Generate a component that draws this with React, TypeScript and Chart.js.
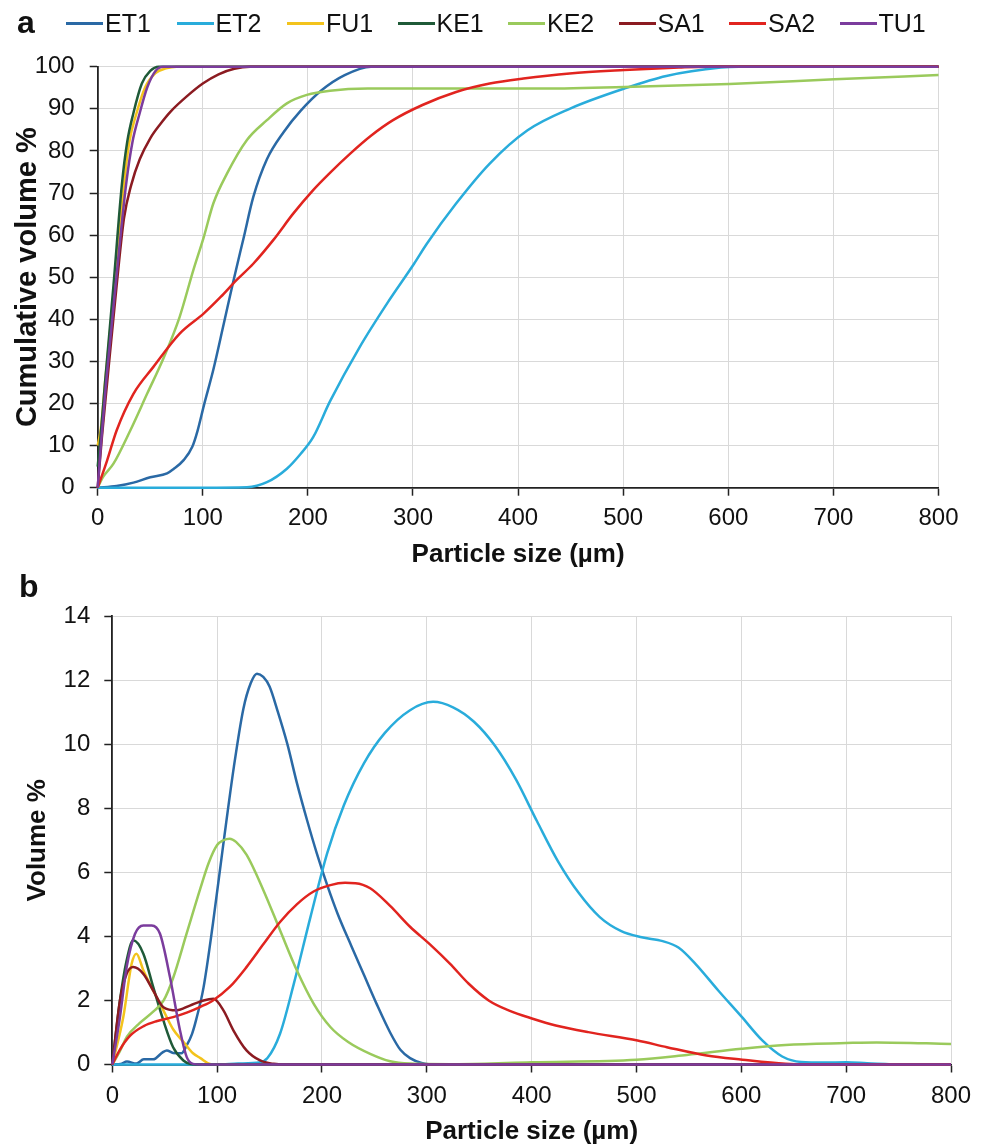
import { useEffect, useRef } from 'react';
import { Chart, registerables } from 'chart.js';

Chart.register(...registerables);

const FONT = '"Liberation Sans", Arial, Helvetica, sans-serif';

const SERIES = ['ET1', 'ET2', 'FU1', 'KE1', 'KE2', 'SA1', 'SA2', 'TU1'];
const COLORS = ['#2a69a5', '#29acdb', '#f3c31c', '#1f5a38', '#9aca5c', '#8b1b21', '#e1241f', '#7b3c9d'];

const X_TICKS = [0, 100, 200, 300, 400, 500, 600, 700, 800];
const Y_TICKS_A = [0, 10, 20, 30, 40, 50, 60, 70, 80, 90, 100];
const Y_TICKS_B = [0, 2, 4, 6, 8, 10, 12, 14];

// ---- Panel a: cumulative volume % ----
const ET1_CUM: number[][] = [[0, 0], [18, 0.4], [34, 1.2], [50, 2.5], [66, 3.4], [72, 4.4], [82, 6.6], [90, 9.7], [95, 13.5], [101, 19.5], [110, 28], [120, 39], [129, 49], [139, 59.5], [148, 69], [161, 78], [177, 84.5], [193, 89.5], [213, 94.4], [235, 98], [260, 100], [300, 100], [800, 100]];
const ET2_CUM: number[][] = [[0, 0], [100, 0], [142, 0.1], [161, 1.3], [180, 4.5], [193, 8], [205, 12], [221, 20.5], [249, 33.3], [277, 44.4], [301, 53.2], [313, 57.9], [341, 67.5], [373, 77], [409, 84.9], [449, 90], [501, 94.8], [541, 97.8], [593, 99.8], [610, 100], [800, 100]];
const FU1_CUM: number[][] = [[0, 10], [3, 14], [7, 25], [16, 48], [25, 72], [30, 82], [37, 89], [45, 95], [55, 98.5], [65, 99.6], [75, 100], [800, 100]];
const KE1_CUM: number[][] = [[0, 5], [3, 13], [7, 25], [15, 48], [23, 72], [28, 82], [34, 89], [42, 96], [50, 99], [58, 100], [800, 100]];
const KE2_CUM: number[][] = [[0, 0], [5, 2.5], [15, 5.7], [31, 13.6], [47, 22.3], [63, 31], [78, 40.6], [91, 51.7], [101, 59.6], [110, 67.5], [123, 74.6], [142, 82.6], [161, 87.3], [180, 91.3], [199, 93.3], [221, 94.3], [257, 94.8], [417, 94.8], [501, 95.2], [601, 95.9], [701, 97], [800, 98]];
const SA1_CUM: number[][] = [[0, 0], [4, 12], [9, 25], [18, 48], [25, 64], [32, 72], [40, 78], [50, 83], [60, 86.5], [70, 89.5], [85, 93], [100, 96], [115, 98.2], [130, 99.5], [145, 100], [800, 100]];
const SA2_CUM: number[][] = [[0, 0], [9, 6.5], [18, 13.6], [34, 22.3], [53, 28.7], [78, 36.6], [101, 41.4], [117, 45.3], [132, 49.3], [148, 53.2], [167, 58.8], [186, 65.1], [205, 70.7], [221, 74.8], [240, 79.3], [260, 83.6], [281, 87.3], [309, 90.9], [341, 94], [373, 96], [405, 97.2], [449, 98.4], [501, 99.2], [553, 99.8], [580, 100], [800, 100]];
const TU1_CUM: number[][] = [[0, 0], [3, 10], [8, 25], [17, 48], [27, 72], [33, 82], [40, 89], [47, 95], [55, 99], [62, 100], [800, 100]];

// ---- Panel b: volume % ----
const ET1_VOL: number[][] = [[0, 0], [8, 0.02], [14, 0.09], [23, 0.03], [30, 0.16], [39, 0.16], [48, 0.38], [52, 0.44], [58, 0.36], [66, 0.35], [71, 0.6], [76, 0.95], [80, 1.4], [87, 2.4], [96, 4.4], [106, 6.9], [116, 9.3], [125, 11.1], [132, 11.9], [138, 12.2], [144, 12.1], [150, 11.8], [158, 11.0], [167, 10.0], [176, 8.8], [186, 7.6], [195, 6.6], [205, 5.6], [215, 4.7], [228, 3.7], [240, 2.8], [252, 1.9], [265, 1.0], [275, 0.45], [284, 0.2], [295, 0.05], [310, 0], [800, 0]];
const ET2_VOL: number[][] = [[0, 0], [100, 0], [120, 0.03], [141, 0.07], [148, 0.2], [160, 0.96], [173, 2.5], [189, 4.6], [205, 6.6], [221, 8.1], [240, 9.4], [260, 10.35], [284, 11.06], [306, 11.32], [325, 11.15], [345, 10.7], [365, 9.95], [385, 8.9], [405, 7.6], [425, 6.35], [445, 5.35], [465, 4.6], [485, 4.17], [505, 3.97], [525, 3.85], [540, 3.65], [556, 3.15], [578, 2.31], [600, 1.5], [620, 0.75], [639, 0.25], [657, 0.08], [680, 0.06], [700, 0.07], [720, 0.04], [755, 0], [800, 0]];
const FU1_VOL: number[][] = [[0, 0], [10.5, 1.48], [18.5, 3.15], [23, 3.46], [29.6, 2.94], [39, 2.31], [48.7, 1.69], [58, 1.1], [68, 0.7], [77, 0.35], [84, 0.2], [93, 0.02], [100, 0], [800, 0]];
const KE1_VOL: number[][] = [[0, 0], [7.3, 2.0], [13.7, 3.25], [20, 3.875], [29.6, 3.46], [39, 2.42], [48.7, 1.375], [58, 0.54], [67.8, 0.125], [74, 0.02], [80, 0], [800, 0]];
const KE2_VOL: number[][] = [[0, 0], [7, 0.4], [14, 0.87], [26, 1.29], [39, 1.65], [49, 2.0], [58, 2.7], [71, 4.1], [84, 5.5], [92, 6.3], [100, 6.85], [106, 7.0], [112, 7.05], [118, 6.95], [128, 6.55], [144, 5.45], [160, 4.19], [176, 2.94], [192, 1.9], [208, 1.17], [225, 0.7], [246, 0.33], [265, 0.1], [284, 0.03], [330, 0.01], [400, 0.07], [500, 0.15], [548, 0.3], [600, 0.49], [642, 0.61], [700, 0.67], [729, 0.69], [800, 0.64]];
const SA1_VOL: number[][] = [[0, 0], [7.3, 2.0], [13.7, 2.83], [20, 3.04], [29.6, 2.83], [39, 2.31], [48.7, 1.79], [61.5, 1.69], [74, 1.84], [87, 2.0], [96.5, 2.05], [106, 1.69], [115.6, 1.06], [128, 0.44], [141, 0.125], [154, 0.02], [165, 0], [800, 0]];
const SA2_VOL: number[][] = [[0, 0], [7, 0.45], [17, 0.9], [30, 1.2], [42, 1.35], [58, 1.48], [71, 1.62], [84, 1.8], [96, 2.0], [112, 2.42], [128, 3.04], [144, 3.75], [160, 4.45], [176, 5.0], [192, 5.4], [208, 5.6], [222, 5.67], [232, 5.66], [246, 5.5], [265, 4.95], [284, 4.3], [303, 3.75], [322, 3.15], [340, 2.52], [359, 2.0], [378, 1.69], [401, 1.43], [423, 1.22], [454, 1.01], [501, 0.75], [529, 0.54], [567, 0.28], [601, 0.15], [642, 0.02], [661, 0], [800, 0]];
const TU1_VOL: number[][] = [[0, 0], [7.3, 1.48], [13.7, 3.04], [21.7, 4.08], [29.6, 4.34], [37.6, 4.34], [45.5, 4.08], [55, 2.73], [64.6, 1.06], [71, 0.23], [77, 0.02], [85, 0], [800, 0]];

const CUM_DATA = [ET1_CUM, ET2_CUM, FU1_CUM, KE1_CUM, KE2_CUM, SA1_CUM, SA2_CUM, TU1_CUM];
const VOL_DATA = [ET1_VOL, ET2_VOL, FU1_VOL, KE1_VOL, KE2_VOL, SA1_VOL, SA2_VOL, TU1_VOL];

type PanelGeom = {
  width: number;
  height: number;
  padTop: number;
  padRight: number;
  yAxisWidth: number;
  xAxisHeight: number;
  yTitleSize: number;
  yTitlePad: number;
  xTitlePad: number;
  yTickPad: number;
  xTickPad: number;
};

function buildConfig(data: number[][][], yTicks: number[], yTitle: string, g: PanelGeom): any {
  const datasets = data.map((pts, i) => ({
    label: SERIES[i],
    data: pts.map(([x, y]) => ({ x, y })),
    borderColor: COLORS[i],
    backgroundColor: COLORS[i],
    borderWidth: 2.5,
    pointRadius: 0,
    pointHoverRadius: 0,
    cubicInterpolationMode: 'monotone',
    fill: false,
    clip: false,
    order: SERIES.length - 1 - i,
  }));
  return {
    type: 'line',
    data: { datasets },
    options: {
      animation: false,
      responsive: false,
      devicePixelRatio: 1,
      events: [],
      layout: { padding: { top: g.padTop, right: g.padRight, left: 0, bottom: 0 } },
      plugins: { legend: { display: false }, tooltip: { enabled: false }, title: { display: false } },
      scales: {
        x: {
          type: 'linear',
          min: X_TICKS[0],
          max: X_TICKS[X_TICKS.length - 1],
          afterBuildTicks: (s: any) => {
            s.ticks = X_TICKS.map((v) => ({ value: v }));
          },
          afterFit: (s: any) => {
            s.height = g.xAxisHeight;
          },
          ticks: { font: { family: FONT, size: 24 }, color: '#111', padding: g.xTickPad, maxRotation: 0, autoSkip: false },
          grid: { color: '#d9d9d9', lineWidth: 1, tickColor: '#222', tickLength: 8, tickWidth: 1.5 },
          border: { color: '#222', width: 1.8 },
          title: {
            display: true,
            text: 'Particle size (µm)',
            font: { family: FONT, size: 26, weight: 'bold' },
            color: '#111',
            padding: { top: 0, bottom: g.xTitlePad },
          },
        },
        y: {
          type: 'linear',
          min: yTicks[0],
          max: yTicks[yTicks.length - 1],
          afterBuildTicks: (s: any) => {
            s.ticks = yTicks.map((v) => ({ value: v }));
          },
          afterFit: (s: any) => {
            s.width = g.yAxisWidth;
          },
          ticks: { font: { family: FONT, size: 24 }, color: '#111', padding: g.yTickPad, autoSkip: false },
          grid: { color: '#d9d9d9', lineWidth: 1, tickColor: '#222', tickLength: 8, tickWidth: 1.5 },
          border: { color: '#222', width: 1.8 },
          title: {
            display: true,
            text: yTitle,
            font: { family: FONT, size: g.yTitleSize, weight: 'bold' },
            color: '#111',
            padding: { top: g.yTitlePad, bottom: 0 },
          },
        },
      },
    },
  };
}

const GEOM_A: PanelGeom = {
  width: 984,
  height: 580,
  padTop: 66.7,
  padRight: 45.5,
  yAxisWidth: 97.7,
  xAxisHeight: 92.3,
  yTitleSize: 29,
  yTitlePad: 10.6,
  xTitlePad: 10,
  yTickPad: 15,
  xTickPad: 8,
};

const GEOM_B: PanelGeom = {
  width: 984,
  height: 567,
  padTop: 36,
  padRight: 33,
  yAxisWidth: 112.3,
  xAxisHeight: 82.5,
  yTitleSize: 26,
  yTitlePad: 22.4,
  xTitlePad: 0,
  yTickPad: 14,
  xTickPad: 9,
};

function Legend() {
  return (
    <div style={{ position: 'absolute', left: 0, top: 0, width: 984, height: 50 }}>
      {SERIES.map((name, i) => {
        const left = 66 + i * 110.5;
        return (
          <div key={name} style={{ position: 'absolute', left, top: 0, height: 50 }}>
            <div style={{ position: 'absolute', left: 0, top: 22, width: 37, height: 3, background: COLORS[i] }} />
            <div
              style={{
                position: 'absolute',
                left: 39,
                top: 9,
                fontFamily: FONT,
                fontSize: 25,
                lineHeight: '28px',
                color: '#111',
                whiteSpace: 'nowrap',
              }}
            >
              {name}
            </div>
          </div>
        );
      })}
    </div>
  );
}

export default function App() {
  const refA = useRef<HTMLCanvasElement | null>(null);
  const refB = useRef<HTMLCanvasElement | null>(null);

  useEffect(() => {
    const charts: Chart[] = [];
    if (refA.current) {
      charts.push(new Chart(refA.current, buildConfig(CUM_DATA, Y_TICKS_A, 'Cumulative volume %', GEOM_A)));
    }
    if (refB.current) {
      charts.push(new Chart(refB.current, buildConfig(VOL_DATA, Y_TICKS_B, 'Volume %', GEOM_B)));
    }
    return () => {
      charts.forEach((c) => c.destroy());
    };
  }, []);

  return (
    <div style={{ position: 'absolute', left: 0, top: 0, width: 984, height: 1147, background: '#fff', overflow: 'hidden' }}>
      <div style={{ position: 'absolute', left: 0, top: 0, width: 984, height: 580 }}>
        <canvas ref={refA} width={GEOM_A.width} height={GEOM_A.height} style={{ display: 'block', width: 984, height: 580 }} />
      </div>
      <div style={{ position: 'absolute', left: 0, top: 580, width: 984, height: 567 }}>
        <canvas ref={refB} width={GEOM_B.width} height={GEOM_B.height} style={{ display: 'block', width: 984, height: 567 }} />
      </div>
      <div style={{ position: 'absolute', left: 17, top: 4, fontFamily: FONT, fontWeight: 'bold', fontSize: 32, lineHeight: '36px', color: '#111' }}>a</div>
      <div style={{ position: 'absolute', left: 19, top: 568, fontFamily: FONT, fontWeight: 'bold', fontSize: 32, lineHeight: '36px', color: '#111' }}>b</div>
      <Legend />
    </div>
  );
}
